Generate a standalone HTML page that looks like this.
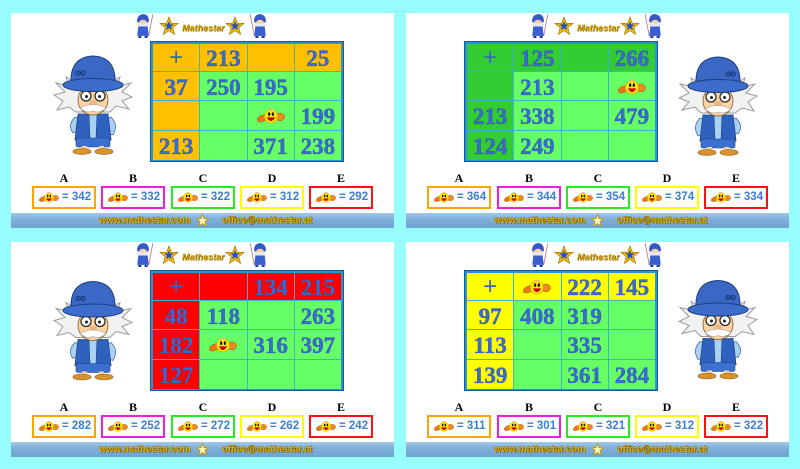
<!DOCTYPE html>
<html><head><meta charset="utf-8">
<style>
*{margin:0;padding:0;box-sizing:border-box}
html,body{width:800px;height:469px;overflow:hidden}
body{background:#97fcfc;position:relative;font-family:"Liberation Sans",sans-serif}
.card{position:absolute;width:383px;height:215px;background:#fff;overflow:hidden}
.abs{position:absolute}
.tbl{position:absolute;top:28px;width:194px;height:121px;background:#13589c;padding:1px}
.tbl .in{width:100%;height:100%;background:#2a95d2;padding:2px}
.grid{display:grid;grid-template-columns:repeat(4,1fr);grid-template-rows:27px 28px 29px 29px;gap:1px;background:#3cb6c4;width:100%;height:100%}
.grid>div{display:flex;align-items:center;justify-content:center;overflow:hidden}
.g{background:#66ff66}
.c1 .h{background:#ffc000}
.c2 .h{background:#33cc33}
.c3 .h{background:#ff0000}
.c4 .h{background:#ffff00}
.n{font:bold 23px "Liberation Serif",serif;line-height:1;color:#3b6ad2;-webkit-text-stroke:0.35px #2248a8;padding-top:2px}
.p{font:24px "Liberation Sans",sans-serif;color:#3566d0;line-height:1}
.lbl{position:absolute;top:158px;width:64px;text-align:center;font:bold 12px "Liberation Serif",serif;color:#000}
.bx{position:absolute;top:173px;width:64px;height:23px;border:2px solid;background:#fff}
.bx svg{position:absolute;left:5px;top:2px}
.bx span{position:absolute;left:28px;top:3px;font:bold 11.5px "Liberation Sans",sans-serif;color:#3a7fd0}
.o{border-color:#ffa500}.m{border-color:#f01edc}.gr{border-color:#22ee22}.y{border-color:#ffff00}.r{border-color:#ff1010}
.ftr{position:absolute;left:0;top:200px;width:383px;height:15px;background:linear-gradient(180deg,#a2c8e8 0%,#7fb0da 40%,#6fa2d0 100%)}
.ft{position:absolute;top:2px;font:bold 9.5px "Liberation Sans",sans-serif;color:#e0ae00;text-shadow:0.6px 0.6px 0 #5c4600,-0.3px -0.3px 0 #7a5c00;white-space:nowrap}
.logo{position:absolute;top:10px;left:171px;font:bold italic 9px "Liberation Sans",sans-serif;color:#d8a400;text-shadow:0.5px 0.5px 0 #6a5000;white-space:nowrap}
</style></head><body>
<svg width="0" height="0" style="position:absolute">
<defs>
<symbol id="sm" viewBox="0 0 30 20">
<ellipse cx="6" cy="13" rx="6" ry="3.4" fill="#e57b18" stroke="#a84d00" stroke-width="0.5" transform="rotate(-25 6 13)"/>
<ellipse cx="24.5" cy="11.5" rx="5" ry="4.2" fill="#ec8a22" stroke="#a84d00" stroke-width="0.5"/>
<circle cx="15" cy="11" r="7" fill="#ffe800" stroke="#c99a00" stroke-width="0.6"/>
<path d="M11,5 Q15,0 19,5 Q15,3.5 11,5Z" fill="#f3a98a"/>
<ellipse cx="13" cy="8.5" rx="1.2" ry="2" fill="#111"/>
<ellipse cx="17" cy="8.5" rx="1.2" ry="2" fill="#111"/>
<path d="M10.5,12 Q15,20 19.5,12 Z" fill="#c8001a"/>
</symbol>
<symbol id="man" viewBox="0 0 80 100">
<path d="M10,46 L1,40 L12,37 L3,28 L16,31 L13,22 L26,30 L54,30 L67,22 L64,31 L78,28 L69,37 L79,42 L69,46 L76,54 L63,51 L57,57 L23,57 L16,52 L4,55 Z" fill="#f2f2f2" stroke="#9a9a9a" stroke-width="1"/>
<path d="M22,62 Q14,70 20,78 L26,76 Q22,70 27,64Z" fill="#a9d1f2" stroke="#3a5f96" stroke-width="0.7"/>
<path d="M58,62 Q66,70 60,80 L54,78 Q58,70 53,64Z" fill="#a9d1f2" stroke="#3a5f96" stroke-width="0.7"/>
<path d="M25,59 L55,59 L58,85 L22,85 Z" fill="#a9d1f2" stroke="#355a90" stroke-width="0.8"/>
<path d="M25,59 L36,60 L37,84 L22,85Z" fill="#2f62bf" stroke="#1d3f80" stroke-width="0.6"/>
<path d="M44,60 L55,59 L58,85 L43,84Z" fill="#2f62bf" stroke="#1d3f80" stroke-width="0.6"/>
<rect x="23" y="83" width="34" height="9" rx="2" fill="#3b6fd0" stroke="#1d3f80" stroke-width="0.6"/>
<rect x="29" y="91" width="5" height="4" fill="#fbd3a2"/>
<rect x="46" y="91" width="5" height="4" fill="#fbd3a2"/>
<ellipse cx="29" cy="96.5" rx="9" ry="3" fill="#d8922e" stroke="#8a5510" stroke-width="0.6"/>
<ellipse cx="51" cy="96.5" rx="9" ry="3" fill="#d8922e" stroke="#8a5510" stroke-width="0.6"/>
<ellipse cx="40" cy="45" rx="15" ry="15" fill="#fbd3a2" stroke="#7a5a30" stroke-width="0.8"/>
<circle cx="33" cy="41" r="5" fill="#fff" stroke="#222" stroke-width="1.2"/>
<circle cx="47" cy="41" r="5" fill="#fff" stroke="#222" stroke-width="1.2"/>
<circle cx="33.5" cy="41.5" r="1.5" fill="#222"/>
<circle cx="46.5" cy="41.5" r="1.5" fill="#222"/>
<ellipse cx="40" cy="48" rx="4" ry="3" fill="#f2b47c"/>
<path d="M27,53 Q40,46 53,53 Q47,59 40,56 Q33,59 27,53Z" fill="#fff" stroke="#999" stroke-width="0.6"/>
<path d="M18,28 Q17,2 40,1 Q63,2 62,28 Z" fill="#3a68c4" stroke="#1f3f80" stroke-width="1"/>
<ellipse cx="40" cy="30" rx="30" ry="6.5" fill="#3c6ccc" stroke="#1f3f80" stroke-width="1"/>
<circle cx="25" cy="18" r="2.3" fill="#2a55a8" stroke="#0f2c60" stroke-width="0.6"/>
<circle cx="30" cy="18" r="2.3" fill="#2a55a8" stroke="#0f2c60" stroke-width="0.6"/>
</symbol>
<symbol id="star" viewBox="0 0 20 20">
<polygon points="10,1 12.4,7.2 19,7.4 13.8,11.6 15.6,18.4 10,14.6 4.4,18.4 6.2,11.6 1,7.4 7.6,7.2" fill="#f2c000" stroke="#9a6a00" stroke-width="0.6"/>
<polygon points="10,5 11.3,8.4 14.8,8.5 12,10.7 13,14.2 10,12.2 7,14.2 8,10.7 5.2,8.5 8.7,8.4" fill="#2a4fc0"/>
</symbol>
<symbol id="wiz" viewBox="0 0 18 24">
<line x1="14" y1="22" x2="18" y2="1" stroke="#c07090" stroke-width="0.8"/>
<path d="M3,9 Q2,2 9,1 Q15,2 14,9Z" fill="#3558c8"/>
<ellipse cx="8.5" cy="10" rx="4" ry="3.5" fill="#f4d0a8"/>
<path d="M2,10 L15,10 L13,14 L4,14Z" fill="#e8e8f0"/>
<path d="M4,13 L13,13 L14,22 L3,22Z" fill="#3a5fd0"/>
<rect x="4" y="22" width="3" height="2" fill="#2a3f90"/><rect x="10" y="22" width="3" height="2" fill="#2a3f90"/>
</symbol>
<symbol id="fstar" viewBox="0 0 20 20">
<polygon points="10,1 12.4,7.2 19,7.4 13.8,11.6 15.6,18.4 10,14.6 4.4,18.4 6.2,11.6 1,7.4 7.6,7.2" fill="#fff6c0" stroke="#c89a00" stroke-width="1.4"/>
</symbol>
</defs>
</svg>

<!-- CARD 1 -->
<div class="card c1" style="left:11px;top:13px">
 <svg class="abs" style="left:123px;top:0px" width="19" height="25"><use href="#wiz"/></svg>
 <svg class="abs" style="left:148px;top:3px" width="20" height="20"><use href="#star"/></svg>
 <div class="logo">Mathestar</div>
 <svg class="abs" style="left:214px;top:3px" width="20" height="20"><use href="#star"/></svg>
 <svg class="abs" style="left:239px;top:0px;transform:scaleX(-1)" width="19" height="25"><use href="#wiz"/></svg>
 <svg class="abs" style="left:42px;top:42px" width="80" height="100"><use href="#man"/></svg>
 <div class="tbl" style="left:139px"><div class="in"><div class="grid">
  <div class="h"><span class="p">+</span></div><div class="h"><span class="n">213</span></div><div class="h"></div><div class="h"><span class="n">25</span></div>
  <div class="h"><span class="n">37</span></div><div class="g"><span class="n">250</span></div><div class="g"><span class="n">195</span></div><div class="g"></div>
  <div class="h"></div><div class="g"></div><div class="g"><svg width="28" height="19"><use href="#sm"/></svg></div><div class="g"><span class="n">199</span></div>
  <div class="h"><span class="n">213</span></div><div class="g"></div><div class="g"><span class="n">371</span></div><div class="g"><span class="n">238</span></div>
 </div></div></div>
 <div class="lbl" style="left:21px">A</div><div class="lbl" style="left:90px">B</div><div class="lbl" style="left:160px">C</div><div class="lbl" style="left:229px">D</div><div class="lbl" style="left:298px">E</div>
 <div class="bx o" style="left:21px"><svg width="20" height="14"><use href="#sm"/></svg><span>= 342</span></div>
 <div class="bx m" style="left:90px"><svg width="20" height="14"><use href="#sm"/></svg><span>= 332</span></div>
 <div class="bx gr" style="left:160px"><svg width="20" height="14"><use href="#sm"/></svg><span>= 322</span></div>
 <div class="bx y" style="left:229px"><svg width="20" height="14"><use href="#sm"/></svg><span>= 312</span></div>
 <div class="bx r" style="left:298px"><svg width="20" height="14"><use href="#sm"/></svg><span>= 292</span></div>
 <div class="ftr"><div class="ft" style="left:88px">www.mathestar.com</div><svg class="abs" style="left:185px;top:1px" width="13" height="13"><use href="#fstar"/></svg><div class="ft" style="left:211px">office@mathestar.at</div></div>
</div>

<!-- CARD 2 -->
<div class="card c2" style="left:406px;top:13px">
 <svg class="abs" style="left:123px;top:0px" width="19" height="25"><use href="#wiz"/></svg>
 <svg class="abs" style="left:148px;top:3px" width="20" height="20"><use href="#star"/></svg>
 <div class="logo">Mathestar</div>
 <svg class="abs" style="left:214px;top:3px" width="20" height="20"><use href="#star"/></svg>
 <svg class="abs" style="left:239px;top:0px;transform:scaleX(-1)" width="19" height="25"><use href="#wiz"/></svg>
 <svg class="abs" style="left:272px;top:43px;transform:scaleX(-1)" width="80" height="100"><use href="#man"/></svg>
 <div class="tbl" style="left:58px"><div class="in"><div class="grid">
  <div class="h"><span class="p">+</span></div><div class="h"><span class="n">125</span></div><div class="h"></div><div class="h"><span class="n">266</span></div>
  <div class="h"></div><div class="g"><span class="n">213</span></div><div class="g"></div><div class="g"><svg width="28" height="19"><use href="#sm"/></svg></div>
  <div class="h"><span class="n">213</span></div><div class="g"><span class="n">338</span></div><div class="g"></div><div class="g"><span class="n">479</span></div>
  <div class="h"><span class="n">124</span></div><div class="g"><span class="n">249</span></div><div class="g"></div><div class="g"></div>
 </div></div></div>
 <div class="lbl" style="left:21px">A</div><div class="lbl" style="left:91px">B</div><div class="lbl" style="left:160px">C</div><div class="lbl" style="left:229px">D</div><div class="lbl" style="left:298px">E</div>
 <div class="bx o" style="left:21px"><svg width="20" height="14"><use href="#sm"/></svg><span>= 364</span></div>
 <div class="bx m" style="left:91px"><svg width="20" height="14"><use href="#sm"/></svg><span>= 344</span></div>
 <div class="bx gr" style="left:160px"><svg width="20" height="14"><use href="#sm"/></svg><span>= 354</span></div>
 <div class="bx y" style="left:229px"><svg width="20" height="14"><use href="#sm"/></svg><span>= 374</span></div>
 <div class="bx r" style="left:298px"><svg width="20" height="14"><use href="#sm"/></svg><span>= 334</span></div>
 <div class="ftr"><div class="ft" style="left:88px">www.mathestar.com</div><svg class="abs" style="left:185px;top:1px" width="13" height="13"><use href="#fstar"/></svg><div class="ft" style="left:211px">office@mathestar.at</div></div>
</div>

<!-- CARD 3 -->
<div class="card c3" style="left:11px;top:242px">
 <svg class="abs" style="left:123px;top:0px" width="19" height="25"><use href="#wiz"/></svg>
 <svg class="abs" style="left:148px;top:3px" width="20" height="20"><use href="#star"/></svg>
 <div class="logo">Mathestar</div>
 <svg class="abs" style="left:214px;top:3px" width="20" height="20"><use href="#star"/></svg>
 <svg class="abs" style="left:239px;top:0px;transform:scaleX(-1)" width="19" height="25"><use href="#wiz"/></svg>
 <svg class="abs" style="left:42px;top:38px" width="80" height="101"><use href="#man"/></svg>
 <div class="tbl" style="left:139px"><div class="in"><div class="grid">
  <div class="h"><span class="p">+</span></div><div class="h"></div><div class="h"><span class="n">134</span></div><div class="h"><span class="n">215</span></div>
  <div class="h"><span class="n">48</span></div><div class="g"><span class="n">118</span></div><div class="g"></div><div class="g"><span class="n">263</span></div>
  <div class="h"><span class="n">182</span></div><div class="g"><svg width="28" height="19"><use href="#sm"/></svg></div><div class="g"><span class="n">316</span></div><div class="g"><span class="n">397</span></div>
  <div class="h"><span class="n">127</span></div><div class="g"></div><div class="g"></div><div class="g"></div>
 </div></div></div>
 <div class="lbl" style="left:21px">A</div><div class="lbl" style="left:90px">B</div><div class="lbl" style="left:160px">C</div><div class="lbl" style="left:229px">D</div><div class="lbl" style="left:298px">E</div>
 <div class="bx o" style="left:21px"><svg width="20" height="14"><use href="#sm"/></svg><span>= 282</span></div>
 <div class="bx m" style="left:90px"><svg width="20" height="14"><use href="#sm"/></svg><span>= 252</span></div>
 <div class="bx gr" style="left:160px"><svg width="20" height="14"><use href="#sm"/></svg><span>= 272</span></div>
 <div class="bx y" style="left:229px"><svg width="20" height="14"><use href="#sm"/></svg><span>= 262</span></div>
 <div class="bx r" style="left:298px"><svg width="20" height="14"><use href="#sm"/></svg><span>= 242</span></div>
 <div class="ftr"><div class="ft" style="left:88px">www.mathestar.com</div><svg class="abs" style="left:185px;top:1px" width="13" height="13"><use href="#fstar"/></svg><div class="ft" style="left:211px">office@mathestar.at</div></div>
</div>

<!-- CARD 4 -->
<div class="card c4" style="left:406px;top:242px">
 <svg class="abs" style="left:123px;top:0px" width="19" height="25"><use href="#wiz"/></svg>
 <svg class="abs" style="left:148px;top:3px" width="20" height="20"><use href="#star"/></svg>
 <div class="logo">Mathestar</div>
 <svg class="abs" style="left:214px;top:3px" width="20" height="20"><use href="#star"/></svg>
 <svg class="abs" style="left:239px;top:0px;transform:scaleX(-1)" width="19" height="25"><use href="#wiz"/></svg>
 <svg class="abs" style="left:272px;top:36px;transform:scaleX(-1)" width="80" height="103"><use href="#man"/></svg>
 <div class="tbl" style="left:58px"><div class="in"><div class="grid">
  <div class="h"><span class="p">+</span></div><div class="h"><svg width="28" height="19"><use href="#sm"/></svg></div><div class="h"><span class="n">222</span></div><div class="h"><span class="n">145</span></div>
  <div class="h"><span class="n">97</span></div><div class="g"><span class="n">408</span></div><div class="g"><span class="n">319</span></div><div class="g"></div>
  <div class="h"><span class="n">113</span></div><div class="g"></div><div class="g"><span class="n">335</span></div><div class="g"></div>
  <div class="h"><span class="n">139</span></div><div class="g"></div><div class="g"><span class="n">361</span></div><div class="g"><span class="n">284</span></div>
 </div></div></div>
 <div class="lbl" style="left:21px">A</div><div class="lbl" style="left:91px">B</div><div class="lbl" style="left:160px">C</div><div class="lbl" style="left:229px">D</div><div class="lbl" style="left:298px">E</div>
 <div class="bx o" style="left:21px"><svg width="20" height="14"><use href="#sm"/></svg><span>= 311</span></div>
 <div class="bx m" style="left:91px"><svg width="20" height="14"><use href="#sm"/></svg><span>= 301</span></div>
 <div class="bx gr" style="left:160px"><svg width="20" height="14"><use href="#sm"/></svg><span>= 321</span></div>
 <div class="bx y" style="left:229px"><svg width="20" height="14"><use href="#sm"/></svg><span>= 312</span></div>
 <div class="bx r" style="left:298px"><svg width="20" height="14"><use href="#sm"/></svg><span>= 322</span></div>
 <div class="ftr"><div class="ft" style="left:88px">www.mathestar.com</div><svg class="abs" style="left:185px;top:1px" width="13" height="13"><use href="#fstar"/></svg><div class="ft" style="left:211px">office@mathestar.at</div></div>
</div>
</body></html>
